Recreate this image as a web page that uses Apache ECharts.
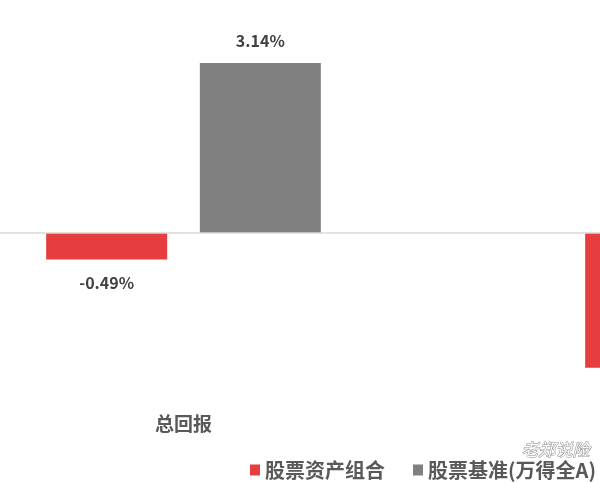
<!DOCTYPE html>
<html>
<head>
<meta charset="utf-8">
<script src="https://cdn.jsdelivr.net/npm/echarts@6/dist/echarts.min.js"></script>
<style>html,body{margin:0;padding:0;background:#fff;}#c{width:600px;height:483px;}</style>
</head>
<body>
<div id="c"></div>
<script>
var categories = ['总回报', ''];
var seriesNames = ['股票资产组合', '股票基准(万得全A)'];
var portfolioValues = [-0.49, -2.49];
var benchmarkValues = [3.14, '-'];

var FONT = '"Noto Sans CJK SC", "Noto Sans", sans-serif';
var chart = echarts.init(document.getElementById('c'), null, {renderer: 'canvas'});
var labelStyle = {
  show: true,
  fontFamily: FONT,
  fontSize: 16,
  fontWeight: 'bold',
  color: '#404040',
  formatter: function (p) { return p.value.toFixed(2) + '%'; }
};
chart.setOption({
  animation: false,
  backgroundColor: '#fff',
  grid: {left: -86, right: -392, top: 38, bottom: 74, outerBoundsMode: 'none', containLabel: false},
  legend: {
    data: seriesNames,
    left: 250,
    top: 460,
    width: 400,
    padding: 0,
    icon: 'rect',
    itemWidth: 10,
    itemHeight: 11,
    itemGap: 28,
    textStyle: {fontFamily: FONT, fontSize: 20, fontWeight: 'bold', color: '#595959'}
  },
  xAxis: {
    type: 'category',
    data: categories,
    axisLine: {show: false},
    axisTick: {show: false},
    axisLabel: {fontFamily: FONT, fontSize: 19, fontWeight: 'bold', color: '#595959', margin: 5}
  },
  yAxis: {
    type: 'value',
    min: -3.25,
    max: 3.6,
    show: false,
    splitLine: {show: false}
  },
  series: [
    {
      name: seriesNames[0],
      type: 'bar',
      data: portfolioValues,
      barWidth: 121,
      barGap: '27%',
      itemStyle: {color: '#E63E3E'},
      label: Object.assign({}, labelStyle, {position: 'bottom', distance: 15}),
      markLine: {
        silent: true,
        symbol: 'none',
        label: {show: false},
        lineStyle: {color: '#D9D9D9', type: 'solid', width: 1.5},
        data: [{yAxis: 0}]
      }
    },
    {
      name: seriesNames[1],
      type: 'bar',
      data: benchmarkValues,
      barWidth: 121,
      itemStyle: {color: '#808080'},
      label: Object.assign({}, labelStyle, {position: 'top', distance: 14})
    }
  ],
  graphic: [
    {
      type: 'text',
      left: 521,
      top: 441,
      z: 100,
      style: {
        text: '老郑说险',
        fontFamily: FONT,
        fontSize: 17,
        fontStyle: 'italic',
        fill: '#ffffff',
        stroke: '#8a8a8a',
        lineWidth: 1
      }
    }
  ]
});
</script>
</body>
</html>
